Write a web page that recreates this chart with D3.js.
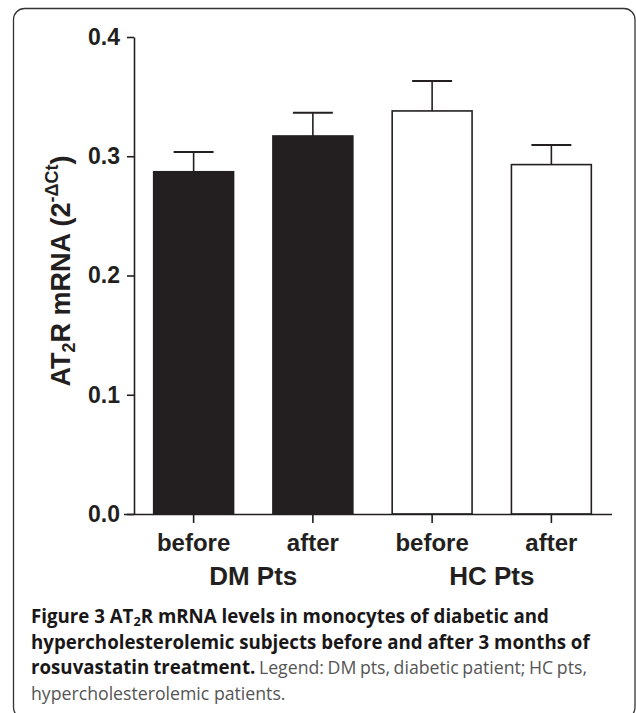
<!DOCTYPE html>
<html>
<head>
<meta charset="utf-8">
<script src="https://cdn.jsdelivr.net/npm/d3@7"></script>
<style>
  html, body { margin: 0; padding: 0; background: #fff; }
  svg { display: block; }
</style>
</head>
<body>
<svg id="chart" width="636" height="713"></svg>
<script>
// ---- data ----
const categories = ["DM before", "DM after", "HC before", "HC after"];
const tickLabels = ["before", "after", "before", "after"];
const groups = ["DM Pts", "HC Pts"];
const values = [0.287, 0.317, 0.338, 0.293];
const errors = [0.0165, 0.0195, 0.025, 0.0165];
const fills = ["#231f20", "#231f20", "#ffffff", "#ffffff"];
const yTicks = [0.0, 0.1, 0.2, 0.3, 0.4];

const ink = "#231f20";
const svg = d3.select("#chart");

// frame
svg.append("rect")
  .attr("x", 13.5).attr("y", 8.5)
  .attr("width", 621.5).attr("height", 710)
  .attr("rx", 11).attr("ry", 11)
  .attr("fill", "none").attr("stroke", "#333").attr("stroke-width", 1.3);

const x = d3.scaleBand().domain(categories).range([134, 611]).paddingInner(0.33).paddingOuter(0.165);
const y = d3.scaleLinear().domain([0, 0.4]).range([514, 37]);

const g = svg.append("g");

// bars
g.selectAll("rect.bar").data(categories).join("rect")
  .attr("class", "bar")
  .attr("x", d => x(d))
  .attr("y", (d, i) => y(values[i]))
  .attr("width", x.bandwidth())
  .attr("height", (d, i) => y(0) - y(values[i]))
  .attr("fill", (d, i) => fills[i])
  .attr("stroke", ink).attr("stroke-width", 1.6);

// error bars (upper only)
const cap = x.bandwidth() / 2;
categories.forEach((c, i) => {
  const cx = x(c) + x.bandwidth() / 2;
  g.append("line").attr("x1", cx).attr("x2", cx)
    .attr("y1", y(values[i])).attr("y2", y(values[i] + errors[i]))
    .attr("stroke", ink).attr("stroke-width", 1.6);
  g.append("line").attr("x1", cx - cap / 2).attr("x2", cx + cap / 2)
    .attr("y1", y(values[i] + errors[i])).attr("y2", y(values[i] + errors[i]))
    .attr("stroke", ink).attr("stroke-width", 2);
});

// y axis
const yAxis = d3.axisLeft(y).tickValues(yTicks).tickFormat(d3.format(".1f")).tickSize(7).tickPadding(7).tickSizeOuter(0);
const ya = svg.append("g").attr("transform", "translate(134,0)").call(yAxis);
ya.select(".domain").attr("stroke", ink).attr("stroke-width", 1.6);
ya.selectAll(".tick line").attr("stroke", ink).attr("stroke-width", 1.6);
ya.selectAll(".tick text")
  .attr("font-family", "'Liberation Sans', Arial, sans-serif")
  .attr("font-weight", "bold").attr("font-size", 23).attr("fill", ink);

// x axis
const xAxis = d3.axisBottom(x).tickFormat((d, i) => tickLabels[i]).tickSize(9).tickPadding(12).tickSizeOuter(0);
const xa = svg.append("g").attr("transform", "translate(0,514)").call(xAxis);
xa.select(".domain").attr("stroke", ink).attr("stroke-width", 1.6)
  .attr("d", "M124,0.5H612");
xa.selectAll(".tick line").attr("stroke", ink).attr("stroke-width", 1.6);
xa.selectAll(".tick text")
  .attr("font-family", "'Liberation Sans', Arial, sans-serif")
  .attr("font-weight", "bold").attr("font-size", 24).attr("fill", ink)
  .attr("dy", null).attr("y", 36.5);

// group labels
groups.forEach((gname, k) => {
  const a = categories[2 * k], b = categories[2 * k + 1];
  const cx = (x(a) + x(b) + x.bandwidth()) / 2;
  svg.append("text").attr("x", cx).attr("y", 585)
    .attr("text-anchor", "middle")
    .attr("font-family", "'Liberation Sans', Arial, sans-serif")
    .attr("font-weight", "bold").attr("font-size", 26).attr("fill", ink)
    .text(gname);
});

// y label
const yl = svg.append("text")
  .attr("transform", "translate(70,271) rotate(-90)")
  .attr("text-anchor", "middle")
  .attr("font-family", "'Liberation Sans', Arial, sans-serif")
  .attr("font-weight", "bold").attr("font-size", 27).attr("fill", ink);
yl.append("tspan").text("AT");
yl.append("tspan").attr("font-size", 18).attr("dy", 5).text("2");
yl.append("tspan").attr("dy", -5).text("R mRNA (2");
yl.append("tspan").attr("font-size", 18).attr("dy", -12).text("-\u0394Ct");
yl.append("tspan").attr("dy", 12).text(")");

// caption
const capFont = "'Open Sans', 'Noto Sans', sans-serif";
const boldSize = 18.7;
const regSize = 17.7;
const lines = [
  [{t: "Figure 3 AT", b: true}, {t: "2", b: true, sub: true}, {t: "R mRNA levels in monocytes of diabetic and", b: true}],
  [{t: "hypercholesterolemic subjects before and after 3 months of", b: true}],
  [{t: "rosuvastatin treatment.", b: true}, {t: " Legend: DM pts, diabetic patient; HC pts,", b: false}],
  [{t: "hypercholesterolemic patients.", b: false}]
];
const wordSpacing = [0, 0, -1, 0];
lines.forEach((ln, i) => {
  const t = svg.append("text").attr("x", 31).attr("y", 623 + i * 25.5)
    .attr("font-family", capFont)
    .attr("word-spacing", wordSpacing[i])
    .attr("xml:space", "preserve");
  ln.forEach((p, j) => {
    const s = t.append("tspan")
      .attr("font-weight", p.b ? "bold" : "normal")
      .attr("font-size", p.b ? boldSize : regSize)
      .attr("fill", p.b ? "#1a1718" : "#555")
      .text(p.t);
    if (p.sub) { s.attr("font-size", boldSize * 0.68).attr("dy", 3); }
    else if (j > 0 && ln[j - 1].sub) { s.attr("dy", -3); }
  });
});
</script>
</body>
</html>
